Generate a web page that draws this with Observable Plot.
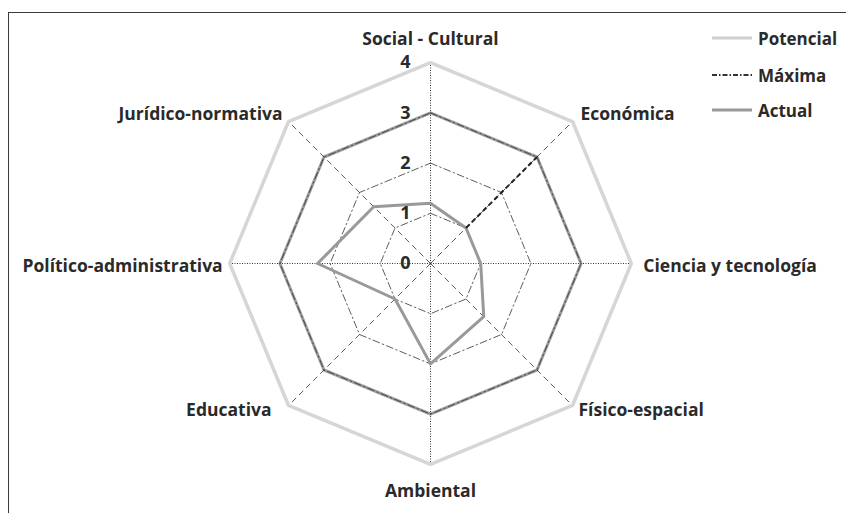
<!DOCTYPE html>
<html><head><meta charset="utf-8">
<script src="https://cdn.jsdelivr.net/npm/d3@7"></script>
<script src="https://cdn.jsdelivr.net/npm/@observablehq/plot@0.6"></script>
<style>
body{margin:0;background:#fff;}
#wrap{position:relative;width:846px;height:513px;overflow:hidden;font-family:"Open Sans",Lato,sans-serif;background:#fff;}
#frame{position:absolute;left:8px;top:12px;width:850px;height:520px;border-left:1.5px solid #3a3a3a;border-top:1.5px solid #3a3a3a;pointer-events:none;}
.leg{position:absolute;left:711px;height:20px;display:flex;align-items:center;font-weight:700;font-size:17px;color:#2a2a2a;}
.leg svg{margin-right:5px;}
</style></head>
<body>
<div id="wrap"><div id="chart"></div><div id="frame"></div><div id="legend"></div></div>
<script>
// ---- data ----
const ejes = ["Social - Cultural","Económica","Ciencia y tecnología","Físico-espacial","Ambiental","Educativa","Político-administrativa","Jurídico-normativa"];
const potencial = [4,4,4,4,4,4,4,4];
const maxima = [3,3,3,3,3,3,3,3];
const actual = [1.2,1,1,1.5,2,1,2.25,1.6];
const niveles = [0,1,2,3,4];
const series = ["Potencial","Máxima","Actual"];

// ---- geometry helpers ----
const N = ejes.length;
const ang = i => i * 2 * Math.PI / N;
const pt = (i, r) => ({x: r * Math.sin(ang(i)), y: r * Math.cos(ang(i))});
const poly = (vals, name) => vals.map((v, i) => ({...pt(i, v), serie: name, eje: ejes[i], v}));

const cx = 430, cy = 263, unit = 50.2, W = 846, H = 513;
const rMax = d3.max(niveles);

const potData = poly(potencial, "Potencial");
const maxData = poly(maxima, "Máxima");
const actData = poly(actual, "Actual");
const ringData = niveles.filter(l => l > 0 && l < rMax).flatMap(l => ejes.map((e, i) => ({...pt(i, l), nivel: l})));
const spokes = ejes.map((e, i) => {
  const p = pt(i, rMax);
  return {x1: 0, y1: 0, x2: p.x, y2: p.y, recto: i % 2 === 0};
});
// emphasis on Económica axis between Actual and Máxima
const iEco = 1;
const ecoSeg = [{x1: pt(iEco, actual[iEco]).x, y1: pt(iEco, actual[iEco]).y, x2: pt(iEco, maxima[iEco]).x, y2: pt(iEco, maxima[iEco]).y}];
const tickData = niveles.map(l => ({x: 0, y: l, t: String(l)}));

// label offsets (style)
const lab = [
  {dx: 0, dy: -23, a: "middle"},
  {dx: 8, dy: -7, a: "start"},
  {dx: 12, dy: 3, a: "start"},
  {dx: 6, dy: 5, a: "start"},
  {dx: 0, dy: 27, a: "middle"},
  {dx: -17, dy: 5, a: "end"},
  {dx: -7, dy: 3, a: "end"},
  {dx: -6, dy: -7, a: "end"}
];
const labelMarks = ejes.map((e, i) => Plot.text([{...pt(i, rMax), t: e}], {
  x: "x", y: "y", text: "t", dx: lab[i].dx, dy: lab[i].dy, textAnchor: lab[i].a,
  fontSize: 17.5, fontWeight: 700, fill: "#2a2a2a"
}));

const chart = Plot.plot({
  width: W, height: H, margin: 0,
  style: {fontFamily: "'Open Sans', Lato, sans-serif", background: "#fff"},
  x: {domain: [-cx / unit, (W - cx) / unit], axis: null},
  y: {domain: [-(H - cy) / unit, cy / unit], axis: null},
  marks: [
    Plot.line(maxData, {x: "x", y: "y", curve: "linear-closed", stroke: "#9c9c9c", strokeWidth: 3}),
    Plot.line(ringData, {x: "x", y: "y", z: "nivel", curve: "linear-closed", stroke: "#333", strokeWidth: 0.8, strokeDasharray: "7,3,1.5,3"}),
    Plot.link(spokes.filter(d => d.recto), {x1: "x1", y1: "y1", x2: "x2", y2: "y2", stroke: "#333", strokeWidth: 1, strokeDasharray: "1,1.5"}),
    Plot.link(spokes.filter(d => !d.recto), {x1: "x1", y1: "y1", x2: "x2", y2: "y2", stroke: "#333", strokeWidth: 0.8, strokeDasharray: "6,4"}),
    Plot.line(potData, {x: "x", y: "y", curve: "linear-closed", stroke: "#d6d6d6", strokeWidth: 3.5}),
    Plot.line(actData, {x: "x", y: "y", curve: "linear-closed", stroke: "#999", strokeWidth: 3}),
    Plot.link(ecoSeg, {x1: "x1", y1: "y1", x2: "x2", y2: "y2", stroke: "#222", strokeWidth: 2, strokeDasharray: "5,3"}),
    Plot.text(tickData, {x: "x", y: "y", text: "t", dx: -25, fontSize: 18, fontWeight: 700, fill: "#2a2a2a"}),
    ...labelMarks
  ]
});
document.getElementById("chart").appendChild(chart);

// legend
const legStyles = {
  "Potencial": {stroke: "#d0d0d0", w: 3, dash: null},
  "Máxima": {stroke: "#333", w: 2, dash: "5,2,1.5,2"},
  "Actual": {stroke: "#999", w: 3, dash: null}
};
const legTops = [28, 65, 100];
const legend = document.getElementById("legend");
series.forEach((s, k) => {
  const st = legStyles[s];
  const row = document.createElement("div");
  row.className = "leg";
  row.style.top = legTops[k] + "px";
  row.innerHTML = `<svg width="42" height="20"><line x1="1" y1="10" x2="41" y2="10" stroke="${st.stroke}" stroke-width="${st.w}" ${st.dash ? `stroke-dasharray="${st.dash}"` : ""}/></svg><span>${s}</span>`;
  legend.appendChild(row);
});
</script>
</body></html>
